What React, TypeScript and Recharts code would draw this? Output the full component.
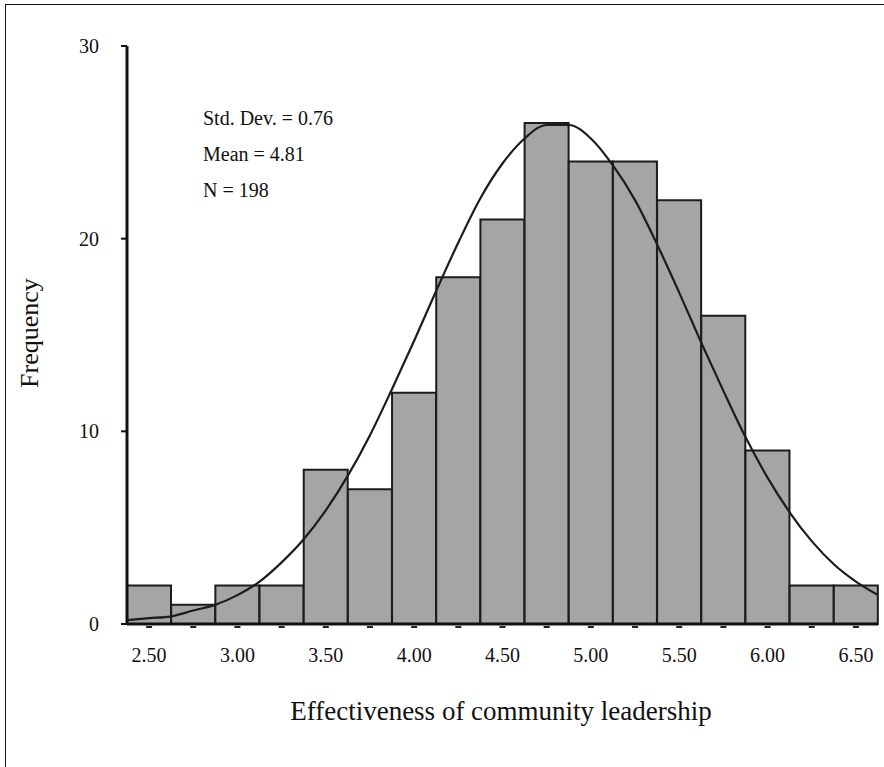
import React from "react";
import { ComposedChart, Bar, Line, XAxis, YAxis } from "recharts";

const binLabels = [
  "2.50", "2.75", "3.00", "3.25", "3.50", "3.75", "4.00", "4.25", "4.50",
  "4.75", "5.00", "5.25", "5.50", "5.75", "6.00", "6.25", "6.50",
];
const frequencies = [2, 1, 2, 2, 8, 7, 12, 18, 21, 26, 24, 24, 22, 16, 9, 2, 2];

// normal curve
const curveX = [
  2.375, 2.5, 2.625, 2.75, 2.875, 3.0, 3.125, 3.25, 3.375, 3.5, 3.625, 3.75,
  3.875, 4.0, 4.125, 4.25, 4.375, 4.5, 4.625, 4.75, 4.875, 5.0, 5.125, 5.25,
  5.375, 5.5, 5.625, 5.75, 5.875, 6.0, 6.125, 6.25, 6.375, 6.5, 6.625,
];
const curveY = [
  0.2, 0.3, 0.4, 0.7, 1.0, 1.5, 2.2, 3.2, 4.4, 5.9, 7.7, 9.8, 12.2, 14.7,
  17.3, 19.8, 22.1, 23.9, 25.2, 25.9, 25.9, 25.2, 23.8, 22.0, 19.7, 17.2,
  14.6, 12.1, 9.7, 7.6, 5.8, 4.3, 3.1, 2.2, 1.5,
];

const yTicks = [0, 10, 20, 30];
const stats = ["Std. Dev. = 0.76", "Mean = 4.81", "N = 198"];

const FONT = "'Liberation Serif', 'Times New Roman', serif";

const bars = binLabels.map((bin, i) => ({ bin, count: frequencies[i] }));
const curve = curveX.map((x, i) => ({ x, y: curveY[i] }));

function XTick(props: any) {
  const { x, y, payload, index } = props;
  return (
    <g>
      <rect x={x - 3} y={y + 2} width={6} height={2} fill="#222" />
      {index % 2 === 0 && (
        <text x={x} y={y + 38} textAnchor="middle" fontSize={20} fontFamily={FONT} fill="#111">
          {payload.value}
        </text>
      )}
    </g>
  );
}

export default function App() {
  return (
    <div style={{ position: "absolute", left: 0, top: 0, width: 884, height: 767, overflow: "hidden", background: "#fff" }}>
      <div
        style={{
          position: "absolute",
          left: 5,
          top: 4,
          width: 1000,
          height: 1000,
          borderLeft: "1px solid #111",
          borderTop: "1px solid #111",
        }}
      />
      <div style={{ position: "absolute", left: 0, top: 0 }}>
        <ComposedChart
          width={884}
          height={767}
          data={bars}
          barCategoryGap={0}
          margin={{ top: 46, right: 6, bottom: 113, left: 0 }}
        >
          <XAxis
            dataKey="bin"
            xAxisId="bins"
            height={30}
            axisLine={{ stroke: "#111", strokeWidth: 3 }}
            tickLine={false}
            tickSize={0}
            tickMargin={0}
            interval={0}
            tick={<XTick />}
          />
          <XAxis
            xAxisId="curve"
            type="number"
            dataKey="x"
            domain={[2.375, 6.625]}
            allowDataOverflow
            hide
          />
          <YAxis
            width={127}
            domain={[0, 30]}
            ticks={yTicks}
            axisLine={{ stroke: "#111", strokeWidth: 3 }}
            tickLine={{ stroke: "#111", strokeWidth: 2 }}
            tickSize={6}
            tickMargin={22}
            tick={{ fill: "#111", fontSize: 20, fontFamily: FONT }}
          />
          <Bar
            xAxisId="bins"
            dataKey="count"
            fill="#a5a5a5"
            stroke="#1c1c1c"
            strokeWidth={2}
            isAnimationActive={false}
          />
          <Line
            xAxisId="curve"
            data={curve}
            dataKey="y"
            type="monotone"
            stroke="#1c1c1c"
            strokeWidth={2.2}
            dot={false}
            isAnimationActive={false}
          />
        </ComposedChart>
      </div>
      <svg width={884} height={767} style={{ position: "absolute", left: 0, top: 0, pointerEvents: "none" }}>
        {stats.map((s, i) => (
          <text key={s} x={203} y={125 + i * 36} fontSize={20} fontFamily={FONT} fill="#111">
            {s}
          </text>
        ))}
        <text
          x={29}
          y={333}
          transform="rotate(-90 29 333)"
          textAnchor="middle"
          dominantBaseline="central"
          fontSize={26}
          fontFamily={FONT}
          fill="#111"
        >
          Frequency
        </text>
        <text x={501} y={720} textAnchor="middle" fontSize={27} fontFamily={FONT} fill="#111">
          Effectiveness of community leadership
        </text>
      </svg>
    </div>
  );
}
